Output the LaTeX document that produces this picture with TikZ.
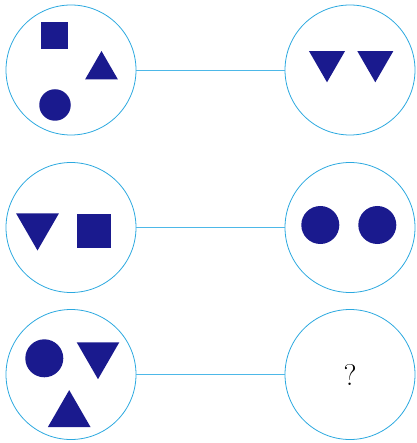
\documentclass[tikz,border=0pt]{standalone}
\usepackage{tikz}
\usetikzlibrary{shapes.geometric}
\definecolor{RingBlue}{HTML}{2AA8DF}
\definecolor{LinkBlue}{HTML}{4DB8E8}
\definecolor{InkBlue}{HTML}{1A1A8E}

\begin{document}
\begin{tikzpicture}[
  x=1pt,y=-1pt,
  ring/.style={circle,draw=RingBlue,line width=0.8pt,minimum size=130pt,inner sep=0pt},
  link/.style={draw=LinkBlue,line width=0.8pt},
  sq/.style={rectangle,fill=InkBlue,inner sep=0pt,minimum size=#1},
  dot/.style={circle,fill=InkBlue,inner sep=0pt,minimum size=#1},
  tri/.style={regular polygon,regular polygon sides=3,fill=InkBlue,inner sep=0pt,minimum size=#1},
  vtri/.style={tri=#1,shape border rotate=180}
]
\useasboundingbox (0,0) rectangle (416,443);
\node[ring] (l1) at (71,70) {};
\node[ring] (r1) at (350,70) {};
\node[ring] (l2) at (71,227.5) {};
\node[ring] (r2) at (350,227.5) {};
\node[ring] (l3) at (71,374.5) {};
\node[ring] (r3) at (350,374.5) {};
\draw[link] (l1.east)--(r1.west);
\draw[link] (l2.east)--(r2.west);
\draw[link] (l3.east)--(r3.west);
\node[sq=27pt] (a1) at (54.5,35.5) {};
\node[tri=38pt] (a2) at (101.5,70) {};
\node[dot=31.5pt] (a3) at (55,105) {};
\node[vtri=41.6pt] (b1) at (327,61.5) {};
\node[vtri=41.6pt] (b2) at (375.3,61.5) {};
\node[vtri=49.6pt] (c1) at (37.5,225.7) {};
\node[sq=34pt] (c2) at (94,231) {};
\node[dot=38pt] (d1) at (320.3,225) {};
\node[dot=38pt] (d2) at (377.3,225) {};
\node[dot=38pt] (e1) at (44.3,358.3) {};
\node[vtri=49.2pt] (e2) at (98,354.6) {};
\node[tri=49.2pt] (e3) at (69.2,414.7) {};
\node[font=\fontsize{30}{30}\selectfont] (q) at (r3) {?};
\end{tikzpicture}
\end{document}
